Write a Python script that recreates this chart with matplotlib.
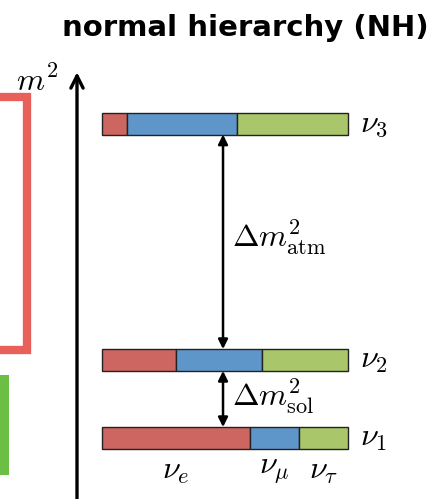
import matplotlib
matplotlib.use("Agg")
import matplotlib.pyplot as plt
from matplotlib.patches import Rectangle

plt.rcParams['mathtext.fontset'] = 'cm'

# squared mass levels (schematic units, nu1 at zero)
states = [r'$\nu_1$', r'$\nu_2$', r'$\nu_3$']
levels = [0.0, 1.0, 4.03]

# flavour content of each mass state: e, mu, tau
flavours = [r'$\nu_e$', r'$\nu_\mu$', r'$\nu_\tau$']
frac_e = [0.60, 0.30, 0.10]
frac_mu = [0.20, 0.35, 0.45]
frac_tau = [0.20, 0.35, 0.45]
colors = ['#cd6660', '#5f96ca', '#a9c66b']

fig = plt.figure(figsize=(4.38, 4.99), dpi=100)
ax = fig.add_axes([0, 0, 1, 1])
ax.set_xlim(-0.4146, 1.3659)
ax.set_ylim(-0.782, 5.615)
ax.axis('off')

bar_h = 0.28
fs = 23

# stacked flavour bars
left = [0.0] * 3
for fr, c in zip([frac_e, frac_mu, frac_tau], colors):
    ax.barh(levels, fr, left=left, height=bar_h, color=c,
            edgecolor='#222222', linewidth=1.0, zorder=3)
    left = [l + f for l, f in zip(left, fr)]

for name, m in zip(states, levels):
    ax.text(1.05, m, name, fontsize=fs, va='center', ha='left')

# flavour names under the lightest state
cum = 0.0
for name, f in zip(flavours, [frac_e[0], frac_mu[0], frac_tau[0]]):
    ax.text(cum + f / 2, levels[0] - 0.42, name, fontsize=fs,
            ha='center', va='center')
    cum += f

# splittings
xa = 0.492
half = bar_h / 2
arr = dict(arrowstyle='<|-|>', color='black', lw=1.8,
           mutation_scale=14, shrinkA=0, shrinkB=0)
ax.annotate('', xy=(xa, levels[2] - half), xytext=(xa, levels[1] + half),
            arrowprops=arr)
ax.annotate('', xy=(xa, levels[1] - half), xytext=(xa, levels[0] + half),
            arrowprops=arr)
ax.text(0.527, (levels[1] + levels[2]) / 2 + 0.06, r'$\Delta m^2_{\rm atm}$',
        fontsize=fs, va='center', ha='left')
ax.text(0.527, (levels[0] + levels[1]) / 2 + 0.04, r'$\Delta m^2_{\rm sol}$',
        fontsize=fs, va='center', ha='left')

# m^2 axis
ax.annotate('', xy=(-0.1016, 4.69), xytext=(-0.1016, -0.8),
            arrowprops=dict(arrowstyle='->', color='black', lw=2.4,
                            mutation_scale=22, shrinkA=0, shrinkB=0))
ax.text(-0.265, 4.57, r'$m^2$', fontsize=fs, ha='center', va='center')

# pieces of the neighbouring panel
ax.add_patch(Rectangle((-0.55, 1.13), 0.245, 3.24, fill=False,
                       edgecolor='#e8605a', linewidth=6, zorder=2))
ax.add_patch(Rectangle((-0.45, -0.47), 0.07, 1.28, facecolor='#6cbf45',
                       edgecolor='none', zorder=2))

fig.text(0.559, 0.943, 'normal hierarchy (NH)', fontsize=21,
         fontweight='bold', family='DejaVu Sans',
         ha='center', va='center')

fig.savefig('out.png', dpi=100)
